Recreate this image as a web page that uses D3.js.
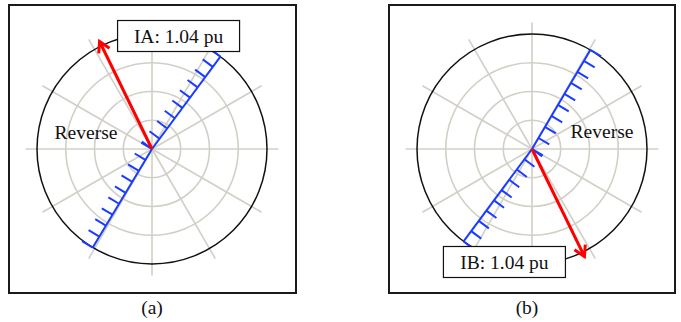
<!DOCTYPE html>
<html>
<head>
<meta charset="utf-8">
<script src="https://cdn.jsdelivr.net/npm/d3@7"></script>
<style>
  html, body { margin: 0; padding: 0; background: #fff; }
  svg { display: block; }
  text { font-family: "Liberation Serif", "Times New Roman", serif; fill: #111; }
</style>
</head>
<body>
<svg id="chart" width="681" height="322"></svg>
<script>
// Panel captions and phase current phasors
const panelNames = ["(a)", "(b)"];
const phaseNames = ["IA", "IB"];
const currentMag = [1.04, 1.04];          // pu
const currentAngle = [116, -64];          // degrees
// Directional boundary: two rays from the origin (degrees) per panel
const boundaryRays = [[53.5, 239], [59.5, 233.5]];
// Direction of the reverse region (hatch side), degrees
const reverseSide = [146, -34];
const reverseLabel = ["Reverse", "Reverse"];
// Polar grid
const ringValues = [0.25, 0.5, 0.75];
const outerRing = 1.0;
const spokeAngles = d3.range(0, 360, 30);
const spokeExtent = 1.1;
const hatchSteps = d3.range(0, 10).map(k => k / 9);

const svg = d3.select("#chart");

// Layout of each panel
const layout = [
  { frame: [9, 5, 287, 288], cx: 152, cy: 149, caption: [152, 314],
    box: { dx: 18, dy: -10, anchor: "bottom-left" }, rev: [-66, -10] },
  { frame: [389, 5, 286, 288], cx: 532, cy: 149, caption: [527, 314],
    box: { dx: -19, dy: -10, anchor: "top-right" }, rev: [70, -11] }
];

const r = d3.scaleLinear().domain([0, 1]).range([0, 115]);
const rad = d => d * Math.PI / 180;
const polar = (cx, cy, v, a) => [cx + r(v) * Math.cos(rad(a)), cy - r(v) * Math.sin(rad(a))];

const gridColor = "#d1cfc6";
const blue = "#1a3cff";
const red = "#ff0000";
const fontSize = 19.5;

panelNames.forEach((name, i) => {
  const L = layout[i];
  const g = svg.append("g");
  const { cx, cy } = L;

  // frame
  g.append("rect")
    .attr("x", L.frame[0]).attr("y", L.frame[1])
    .attr("width", L.frame[2]).attr("height", L.frame[3])
    .attr("fill", "#fff").attr("stroke", "#1a1a1a").attr("stroke-width", 2);

  // radial spokes
  g.selectAll(".spoke").data(spokeAngles).join("line")
    .attr("x1", cx).attr("y1", cy)
    .attr("x2", a => polar(cx, cy, spokeExtent, a)[0])
    .attr("y2", a => polar(cx, cy, spokeExtent, a)[1])
    .attr("stroke", gridColor).attr("stroke-width", 1.6);

  // inner rings
  g.selectAll(".ring").data(ringValues).join("circle")
    .attr("cx", cx).attr("cy", cy).attr("r", v => r(v))
    .attr("fill", "none").attr("stroke", gridColor).attr("stroke-width", 1.6);

  // unit circle
  g.append("circle")
    .attr("cx", cx).attr("cy", cy).attr("r", r(outerRing))
    .attr("fill", "none").attr("stroke", "#111").attr("stroke-width", 1.5);

  // directional boundary with hatching on the reverse side
  const side = reverseSide[i];
  boundaryRays[i].forEach(a => {
    const end = polar(cx, cy, outerRing, a);
    g.append("line")
      .attr("x1", cx).attr("y1", cy).attr("x2", end[0]).attr("y2", end[1])
      .attr("stroke", blue).attr("stroke-width", 2);
    // perpendicular pointing toward reverse side
    let p = a + 90;
    if (Math.cos(rad(p - side)) < 0) p = a - 90;
    const tickLen = 12.5;
    g.selectAll(null).data(hatchSteps).join("line")
      .attr("x1", v => polar(cx, cy, v, a)[0])
      .attr("y1", v => polar(cx, cy, v, a)[1])
      .attr("x2", v => polar(cx, cy, v, a)[0] + tickLen * Math.cos(rad(p)))
      .attr("y2", v => polar(cx, cy, v, a)[1] - tickLen * Math.sin(rad(p)))
      .attr("stroke", blue).attr("stroke-width", 2);
  });

  // reverse region label
  g.append("text")
    .attr("x", cx + L.rev[0]).attr("y", cy + L.rev[1])
    .attr("text-anchor", "middle").attr("font-size", fontSize)
    .text(reverseLabel[i]);

  // current phasor arrow
  const tip = polar(cx, cy, currentMag[i], currentAngle[i]);
  g.append("line")
    .attr("x1", cx).attr("y1", cy).attr("x2", tip[0]).attr("y2", tip[1])
    .attr("stroke", red).attr("stroke-width", 3);
  const back = currentAngle[i] + 180;
  const headLen = 12, headSpread = 30;
  const h1 = [tip[0] + headLen * Math.cos(rad(back + headSpread)), tip[1] - headLen * Math.sin(rad(back + headSpread))];
  const h2 = [tip[0] + headLen * Math.cos(rad(back - headSpread)), tip[1] - headLen * Math.sin(rad(back - headSpread))];
  g.append("path")
    .attr("d", d3.line()([h1, tip, h2]))
    .attr("fill", "none").attr("stroke", red).attr("stroke-width", 3)
    .attr("stroke-linejoin", "miter");

  // value label box
  const label = `${phaseNames[i]}: ${currentMag[i].toFixed(2)} pu`;
  const bw = 122, bh = 31;
  let bx, by;
  if (L.box.anchor === "bottom-left") { bx = tip[0] + L.box.dx; by = tip[1] - L.box.dy - bh; }
  else { bx = tip[0] + L.box.dx - bw; by = tip[1] + L.box.dy; }
  g.append("rect")
    .attr("x", bx).attr("y", by).attr("width", bw).attr("height", bh)
    .attr("fill", "#fff").attr("stroke", "#111").attr("stroke-width", 1.2);
  g.append("text")
    .attr("x", bx + bw / 2).attr("y", by + bh / 2 + 7)
    .attr("text-anchor", "middle").attr("font-size", fontSize)
    .text(label);

  // caption
  svg.append("text")
    .attr("x", L.caption[0]).attr("y", L.caption[1])
    .attr("text-anchor", "middle").attr("font-size", fontSize)
    .text(name);
});
</script>
</body>
</html>
